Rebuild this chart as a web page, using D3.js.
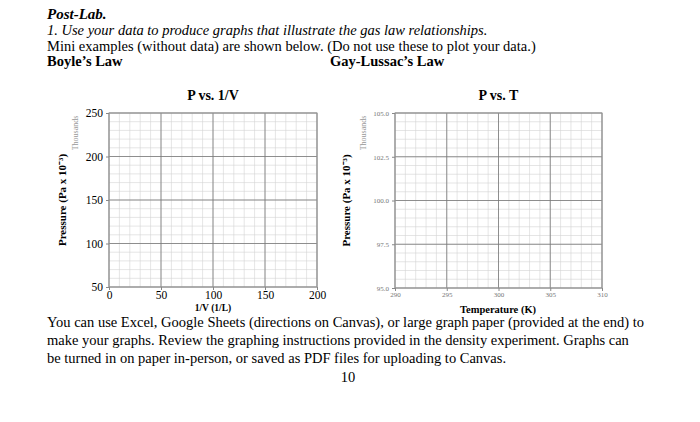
<!DOCTYPE html><html><head><meta charset="utf-8">
<script src="https://cdn.jsdelivr.net/npm/d3@7"></script>
<style>body{margin:0;background:#fff}svg{font-family:"Liberation Serif","Times New Roman",serif}</style></head><body>
<svg id="s" width="700" height="422"></svg>
<script>
const boyleX=[0,50,100,150,200], boyleY=[50,100,150,200,250];
const gayX=[290,295,300,305,310], gayY=[95.0,97.5,100.0,102.5,105.0];
const svg=d3.select("#s");
const T=(x,y,t,o={})=>{const e=svg.append("text").attr("x",x).attr("y",y).text(t)
 .attr("font-size",o.s||14).attr("fill",o.c||"#000");
 if(o.b)e.attr("font-weight","bold");if(o.i)e.attr("font-style","italic");
 if(o.a)e.attr("text-anchor",o.a);if(o.r)e.attr("transform",`rotate(-90,${x},${y})`);return e;};
T(47,19,"Post-Lab.",{b:1,i:1,s:15});
T(47,35,"1.  Use your data to produce graphs that illustrate the gas law relationships.",{i:1,s:14.5});
T(47,51,"Mini examples (without data) are shown below.  (Do not use these to plot your data.)",{s:14.5});
T(47,66,"Boyle\u2019s Law",{b:1,s:14.5});
T(330,66,"Gay-Lussac\u2019s Law",{b:1,s:14.5});
function chart(o){
 const x=d3.scaleLinear().domain(o.xd).range([o.x0,o.x1]);
 const y=d3.scaleLinear().domain(o.yd).range([o.y0,o.y1]);
 const g=svg.append("g");
 d3.range(o.xd[0],o.xd[1]+1e-9,o.xm).forEach(v=>g.append("line").attr("x1",x(v)).attr("x2",x(v)).attr("y1",o.y0).attr("y2",o.y1).attr("stroke","#d4d4d4").attr("stroke-width",0.6));
 d3.range(o.yd[0],o.yd[1]+1e-9,o.ym).forEach(v=>g.append("line").attr("y1",y(v)).attr("y2",y(v)).attr("x1",o.x0).attr("x2",o.x1).attr("stroke","#d4d4d4").attr("stroke-width",0.6));
 o.xt.forEach(v=>g.append("line").attr("x1",x(v)).attr("x2",x(v)).attr("y1",o.y0).attr("y2",o.y1).attr("stroke","#777").attr("stroke-width",0.8));
 o.yt.forEach(v=>g.append("line").attr("y1",y(v)).attr("y2",y(v)).attr("x1",o.x0).attr("x2",o.x1).attr("stroke","#777").attr("stroke-width",0.8));
 g.append("rect").attr("x",o.x0).attr("y",o.y1).attr("width",o.x1-o.x0).attr("height",o.y0-o.y1).attr("fill","none").attr("stroke","#999");
 const ax=svg.append("g").attr("transform",`translate(0,${o.y0})`).call(d3.axisBottom(x).tickValues(o.xt).tickSize(3).tickFormat(o.xf));
 const ay=svg.append("g").attr("transform",`translate(${o.x0},0)`).call(d3.axisLeft(y).tickValues(o.yt).tickSize(3).tickFormat(o.yf));
 [ax,ay].forEach(a=>{a.select(".domain").remove();a.selectAll("line").attr("stroke","#888");
  a.selectAll("text").attr("font-family","Liberation Serif").attr("font-size",o.ts).attr("fill",o.tc);});
 ax.selectAll("text").attr("y",4).attr("dy","0.72em");
 T((o.x0+o.x1)/2,o.y1-13,o.title,{b:1,s:14,a:"middle"});
 T(o.yl,(o.y0+o.y1)/2,"Pressure (Pa x 10\u207B\u00B3)",{b:1,s:11,a:"middle",r:1});
 T(o.th,o.y1+20,"Thousands",{s:8,c:"#999",a:"middle",r:1});
 T(o.xlx,o.xly,o.xl,{b:1,s:o.xls,a:"middle"});
}
chart({xd:[0,200],yd:[50,250],x0:109,x1:317,y0:287,y1:113,xm:10,ym:10,xt:boyleX,yt:boyleY,
 xf:d3.format("d"),yf:d3.format("d"),ts:11.5,tc:"#000",title:"P vs. 1/V",yl:66,th:78,xl:"1/V (1/L)",xlx:213,xly:311,xls:9.5});
chart({xd:[290,310],yd:[95,105],x0:395,x1:602,y0:288,y1:113,xm:1,ym:0.5,xt:gayX,yt:gayY,
 xf:d3.format("d"),yf:d3.format(".1f"),ts:7,tc:"#777",title:"P vs. T",yl:350,th:366,xl:"Temperature  (K)",xlx:498,xly:313,xls:10.5});
T(47,327,"You can use Excel, Google Sheets (directions on Canvas), or large graph paper (provided at the end) to",{s:14.5});
T(47,345,"make your graphs.  Review the graphing instructions provided in the density experiment.  Graphs can",{s:14.5});
T(47,363,"be turned in on paper in-person, or saved as PDF files for uploading to Canvas.",{s:14.5});
T(348,382,"10",{s:14.5,a:"middle"});
</script></body></html>
